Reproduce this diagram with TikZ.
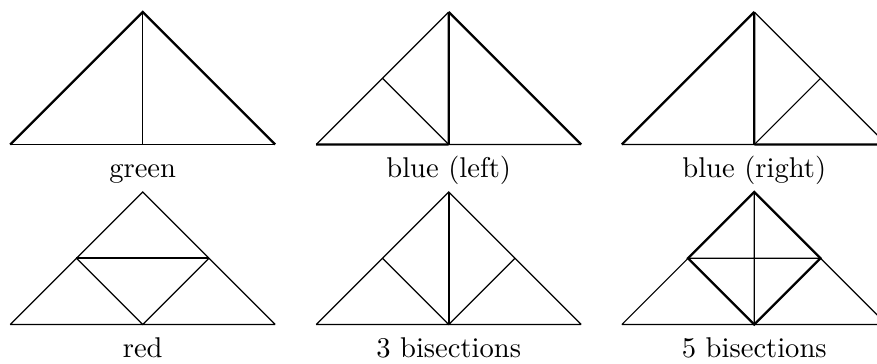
\documentclass[tikz,border=0pt]{standalone}
\begin{document}
\begin{tikzpicture}[x=0.35pt,y=-0.35pt,
  thinedge/.style={line width=0.4pt},
  thickedge/.style={line width=0.8pt},
  lbl/.style={anchor=base,inner sep=0pt,font=\normalsize}]
\useasboundingbox (0,0) rectangle (877,363);
\clip (0,0) rectangle (877,363);
\newcommand\mktri[3]{%
  \coordinate (#1T) at ({#2},{#3-132.5});
  \coordinate (#1L) at ({#2-132.5},{#3});
  \coordinate (#1R) at ({#2+132.5},{#3});
  \coordinate (#1M) at ({#2},{#3});
  \coordinate (#1P) at ({#2-66.25},{#3-66.25});
  \coordinate (#1Q) at ({#2+66.25},{#3-66.25});}
\mktri{a}{142.7}{144.5}
\mktri{b}{448.7}{144.5}
\mktri{c}{754.3}{144.5}
\mktri{d}{142.7}{324.5}
\mktri{e}{448.7}{324.5}
\mktri{f}{754.3}{324.5}
% green
\draw[thinedge] (aL) -- (aR) (aT) -- (aM);
\draw[thickedge] (aL) -- (aT) -- (aR);
% blue (left)
\draw[thinedge] (bL) -- (bT) (bM) -- (bR) (bP) -- (bM);
\draw[thickedge] (bT) -- (bR) (bL) -- (bM) (bT) -- (bM);
% blue (right)
\draw[thinedge] (cT) -- (cR) (cL) -- (cM) (cQ) -- (cM);
\draw[thickedge] (cL) -- (cT) (cT) -- (cM) (cM) -- (cR);
% red
\draw[thinedge] (dL) -- (dT) -- (dR) (dL) -- (dR) (dP) -- (dM) -- (dQ);
\draw[thickedge] (dP) -- (dQ);
% 3 bisections
\draw[thinedge] (eL) -- (eT) -- (eR) (eL) -- (eR) (eP) -- (eM) -- (eQ);
\draw[thickedge] (eT) -- (eM);
% 5 bisections
\draw[thinedge] (fL) -- (fP) (fQ) -- (fR) (fL) -- (fR) (fP) -- (fQ) (fT) -- (fM);
\draw[thickedge] (fT) -- (fP) -- (fM) -- (fQ) -- cycle;
% labels
\node[lbl] (la) at (142.7,177) {green};
\node[lbl] (lb) at (448.7,177) {blue (left)};
\node[lbl] (lc) at (754.3,177) {blue (right)};
\node[lbl] (ld) at (142.7,357) {red};
\node[lbl] (le) at (448.7,357) {3 bisections};
\node[lbl] (lf) at (754.3,357) {5 bisections};
\end{tikzpicture}
\end{document}
